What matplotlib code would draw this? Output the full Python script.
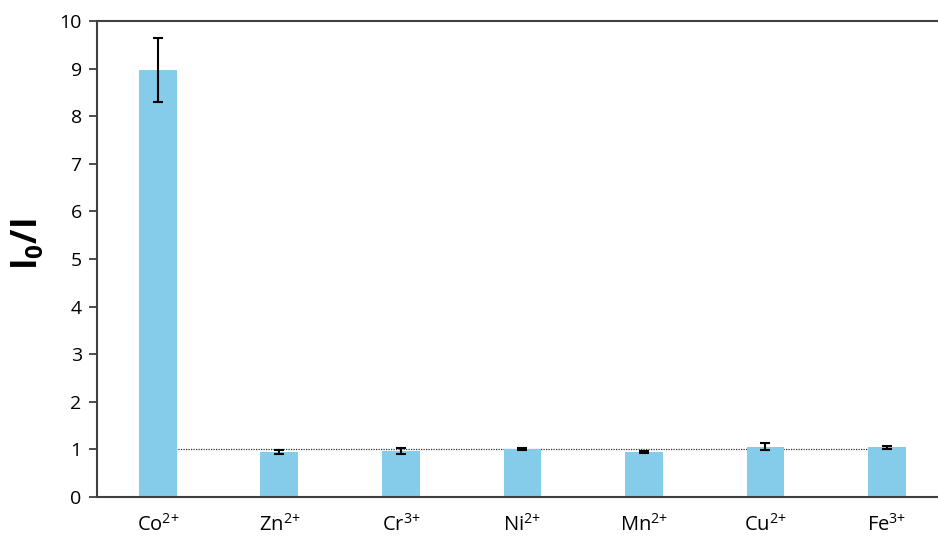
import numpy as np
import matplotlib.pyplot as plt

ions = ['Co$^{2{+}}$', 'Zn$^{2{+}}$', 'Cr$^{3{+}}$', 'Ni$^{2{+}}$', 'Mn$^{2{+}}$', 'Cu$^{2{+}}$', 'Fe$^{3{+}}$']
ratio = [8.97, 0.95, 0.96, 1.00, 0.95, 1.06, 1.04]
err = [0.67, 0.04, 0.06, 0.02, 0.02, 0.08, 0.03]

plt.rcParams['font.family'] = ['Open Sans', 'DejaVu Sans']
plt.rcParams['mathtext.fontset'] = 'custom'
plt.rcParams['mathtext.rm'] = 'Open Sans'
plt.rcParams['mathtext.bf'] = 'Open Sans:bold'

fig = plt.figure(figsize=(9.38, 5.45), dpi=100)
ax = fig.add_axes([97/938, 1 - 497/545, 1 - 97/938, (497 - 21)/545])

x = np.arange(len(ions))
ax.bar(x, ratio, width=0.31, color='#85cbea', zorder=2)
ax.errorbar(x, ratio, yerr=err, fmt='none', ecolor='black', elinewidth=1.5,
            capsize=3.5, capthick=1.5, zorder=3)
ax.plot([x[0], x[-1]], [1, 1], linestyle=(0, (1, 1)), color='#333333', lw=0.9, zorder=1)

ax.set_xlim(-0.5, 6.42)
ax.set_ylim(0, 10)
ax.set_yticks(range(0, 11))
ax.set_xticks(x)
ax.set_xticklabels(ions)
ax.tick_params(axis='y', length=6, width=1.3, color='#404040', labelsize=14, pad=5)
ax.tick_params(axis='x', length=0, labelsize=14.5, pad=12)
for s in ['left', 'top', 'bottom']:
    ax.spines[s].set_linewidth(1.5)
    ax.spines[s].set_color('#404040')
ax.spines['right'].set_visible(False)

ax.set_ylabel(r'$\mathbf{I_0/I}$', fontsize=25)
ax.yaxis.set_label_coords(-0.062, 0.53)

fig.savefig('out.png', dpi=100)
